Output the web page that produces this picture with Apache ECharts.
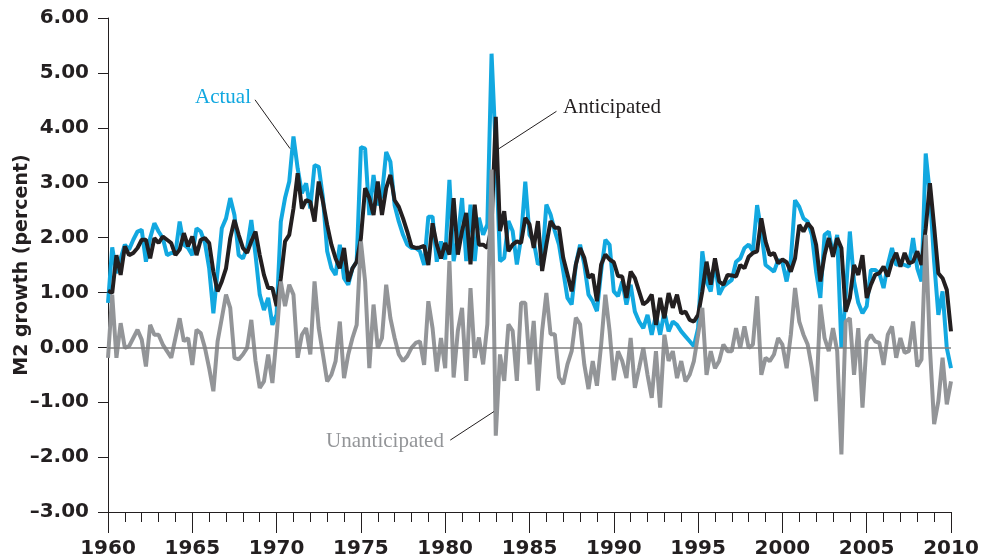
<!DOCTYPE html>
<html><head><meta charset="utf-8">
<script src="https://cdn.jsdelivr.net/npm/echarts/dist/echarts.min.js"></script>
<style>html,body{margin:0;padding:0;background:#fff}#c{width:983px;height:560px}</style>
</head><body><div id="c"></div>
<script>
// Quarterly data, 1960Q1 .. 2010Q1
const startYear = 1960;
const stepYears = 0.25;

const actual = [
 0.81,1.82,1.35,1.62,1.87,1.78,1.96,2.11,2.14,1.56,
 1.99,2.26,2.11,1.99,1.68,1.72,1.72,2.29,1.87,1.81,
 1.68,2.17,2.11,1.9,1.44,0.62,1.38,2.17,2.35,2.72,
 2.41,1.68,1.62,1.81,2.32,1.68,0.96,0.68,0.9,0.41,
 0.6,
 2.29,2.72,3.02,3.84,3.26,2.81,2.99,2.53,3.32,3.29,
 2.72,1.75,1.44,1.32,1.87,1.26,1.14,1.44,1.56,3.65,
 3.62,2.41,3.14,2.59,2.78,3.56,3.38,2.59,2.29,2.05,
 1.87,1.81,1.81,1.75,1.5,2.38,2.38,1.56,1.93,1.6,
 3.05,1.57,1.99,2.72,1.57,2.6,1.57,2.36,2.05,2.24,
 5.35,3.6,1.57,1.63,2.3,2.12,1.51,1.99,3.02,2.05,
 1.93,1.51,1.57,2.6,2.42,2.12,1.87,1.39,0.9,0.78,
 1.51,1.87,1.51,0.96,0.84,0.66,1.39,1.96,1.87,1.02,
 0.93,
 1.2,0.78,1.14,0.65,0.47,0.35,0.59,0.23,0.59,0.23,
 0.65,0.29,0.47,0.41,0.29,0.2,0.11,0.02,0.35,1.75,
 1.2,1.02,1.56,0.96,1.11,1.17,1.23,1.56,1.62,1.81,
 1.87,1.75,2.59,2.11,1.5,1.44,1.38,1.59,1.55,1.2,
 1.59,2.68,2.56,2.35,2.29,2.05,1.38,0.9,2.05,2.11,
 1.68,2.05,-0.01,0.9,2.11,1.2,0.81,0.62,0.75,1.41,
 1.41,1.35,1.08,1.5,1.81,1.5,1.53,1.5,1.47,1.99,
 1.44,1.2,3.53,2.78,1.56,0.59,1.02,-0.01,-0.38
];

const anticipated = [
 1.03,0.99,1.68,1.32,1.84,1.68,1.72,1.81,1.96,1.96,
 1.62,1.99,1.9,2.02,1.96,1.9,1.68,1.78,2.08,1.84,
 2.02,1.68,1.96,1.99,1.9,1.38,1.02,1.2,1.44,1.99,
 2.32,2.05,1.81,1.72,1.93,2.11,1.68,1.32,1.08,1.08,
 0.75,
 1.26,1.93,2.05,2.53,3.17,2.53,2.68,2.65,2.29,3.02,
 2.65,2.23,1.87,1.62,1.44,1.81,1.2,1.44,1.56,1.99,
 2.9,2.72,2.41,3.02,2.41,2.9,3.14,2.68,2.56,2.35,
 2.11,1.84,1.81,1.82,1.85,1.5,2.26,1.87,1.62,1.9,
 1.69,2.72,1.69,2.12,2.45,1.51,2.6,1.87,1.87,1.81,
 2.2,4.2,2.12,2.48,1.75,1.87,1.93,1.9,2.36,2.24,
 1.81,2.3,1.39,1.87,2.3,2.18,2.18,1.63,1.33,1.02,
 1.51,1.81,1.63,1.27,1.33,0.84,1.51,1.69,1.6,1.55,
 1.3,
 1.29,0.9,1.38,1.26,1.02,0.78,0.84,0.96,0.41,0.9,
 0.53,0.99,0.72,0.96,0.62,0.65,0.5,0.47,0.59,1.02,
 1.56,1.14,1.62,1.2,1.14,1.32,1.31,1.29,1.5,1.44,
 1.65,1.72,1.75,2.35,1.93,1.68,1.72,1.53,1.6,1.55,
 1.38,1.62,2.23,2.11,2.26,2.17,1.87,1.2,1.68,1.99,
 1.65,1.99,1.81,0.65,0.9,1.5,1.32,1.68,0.9,1.14,
 1.32,1.35,1.47,1.29,1.56,1.72,1.47,1.72,1.53,1.56,
 1.75,1.5,2.17,2.99,2.2,1.35,1.26,1.05,0.29
];

const unanticipated = [
 -0.19,0.96,-0.19,0.44,-0.01,0.02,0.17,0.32,0.14,-0.35,
 0.41,0.23,0.23,0.05,-0.07,-0.19,0.17,0.53,0.11,0.17,
 -0.32,0.32,0.26,-0.01,-0.38,-0.8,0.11,0.53,0.96,0.72,
 -0.19,-0.22,-0.13,-0.01,0.5,-0.25,-0.74,-0.62,-0.13,-0.65,
 0.2,
 1.2,0.75,1.14,0.96,-0.19,0.23,0.35,-0.13,1.2,0.35,
 -0.13,-0.62,-0.5,-0.25,0.47,-0.56,-0.13,0.17,0.41,1.93,
 1.2,-0.38,0.78,-0.01,0.17,1.14,0.53,0.17,-0.13,-0.25,
 -0.16,-0.01,0.08,0.11,-0.32,0.84,0.35,-0.44,0.17,-0.38,
 1.57,-0.55,0.3,0.72,-0.61,1.08,-0.19,0.18,-0.31,0.42,
 3.24,-1.61,-0.13,-0.61,0.42,0.3,-0.61,0.81,0.81,-0.31,
 0.48,-0.79,0.3,0.99,0.24,0.24,-0.55,-0.67,-0.31,-0.07,
 0.54,0.42,-0.31,-0.76,-0.25,-0.7,0.05,0.96,0.3,-0.6,
 -0.07,
 -0.25,-0.56,0.17,-0.74,-0.38,-0.01,-0.5,-0.92,-0.07,-1.1,
 0.23,-0.25,-0.07,-0.56,-0.25,-0.62,-0.5,-0.25,0.23,0.72,
 -0.5,-0.07,-0.38,-0.25,0.05,-0.07,-0.07,0.35,-0.01,0.38,
 -0.01,0.05,0.93,-0.5,-0.19,-0.25,-0.13,0.17,0.05,-0.38,
 0.23,1.08,0.47,0.23,0.05,-0.38,-0.98,0.78,0.17,-0.07,
 0.35,-0.07,-1.95,0.47,0.53,-0.5,0.35,-1.1,0.11,0.23,
 0.11,0.08,-0.32,0.23,0.38,-0.19,0.17,-0.1,-0.07,0.47,
 -0.35,-0.22,2.05,-0.01,-1.4,-0.98,-0.19,-1.04,-0.62
];

const xMin = 1960, xMax = 2010, xMajor = 5, xMinor = 1;
const yMin = -3, yMax = 6, yStep = 1;
const yAxisTitle = 'M2 growth (percent)';

// annotation labels: text anchor (year,value), leader from, leader to
const notes = [
  {text: 'Actual',        at: [1966.82, 4.56], from: [1968.72, 4.51], to: [1970.80, 3.62], color: '#12a8e0'},
  {text: 'Anticipated',   at: [1989.89, 4.37], from: [1986.60, 4.30], to: [1983.19, 3.62], color: '#231f20'},
  {text: 'Unanticipated', at: [1976.43, -1.71], from: [1980.30, -1.69], to: [1982.89, -1.17], color: '#939598'}
];

const BLUE = '#12a8e0', BLACK = '#231f20', GRAY = '#939598';
const FONT = 'DejaVu Sans';

function pairs(arr){ return arr.map((v,i)=>[startYear + i*stepYears, v]); }
function fmtY(v){ return (v < 0 ? '\u2013' + Math.abs(v).toFixed(2) : v.toFixed(2)); }

const chart = echarts.init(document.getElementById('c'), null, {renderer:'canvas'});
chart.setOption({
  animation: false,
  backgroundColor: '#ffffff',
  grid: {left: 108, right: 32, top: 18, bottom: 48, containLabel: false, outerBoundsMode: 'none'},
  xAxis: [{
    type: 'value', min: xMin, max: xMax, interval: xMajor, position: 'bottom',
    axisLine: {show: true, onZero: false, lineStyle: {color: BLACK, width: 1}},
    axisTick: {show: true, length: 21, lineStyle: {color: BLACK, width: 1}},
    axisLabel: {formatter: v => String(v), fontFamily: FONT, fontWeight: 'bold', fontSize: 20, color: BLACK, margin: 27},
    splitLine: {show: false}
  },{
    type: 'value', min: xMin, max: xMax, interval: xMinor, position: 'bottom',
    axisLine: {show: false, onZero: false},
    axisTick: {show: true, length: 10, lineStyle: {color: BLACK, width: 1}},
    axisLabel: {show: false},
    splitLine: {show: false}
  }],
  yAxis: {
    type: 'value', min: yMin, max: yMax, interval: yStep,
    name: yAxisTitle, nameLocation: 'middle', nameGap: 76, nameRotate: 90, nameMoveOverlap: false,
    nameTextStyle: {fontFamily: FONT, fontWeight: 'bold', fontSize: 19, color: BLACK},
    axisLine: {show: true, onZero: false, lineStyle: {color: BLACK, width: 1}},
    axisTick: {show: true, length: 10, lineStyle: {color: BLACK, width: 1}},
    axisLabel: {formatter: fmtY, fontFamily: FONT, fontWeight: 'bold', fontSize: 20, color: BLACK, margin: 19},
    splitLine: {show: false}
  },
  series: [
    {name: 'Actual', type: 'line', xAxisIndex: 0, data: pairs(actual), symbol: 'none', z: 2,
     lineStyle: {color: BLUE, width: 4},
     markLine: {silent: true, symbol: 'none', label: {show: false},
       lineStyle: {color: '#7f7f7f', width: 1.5, type: 'solid'}, data: [{yAxis: 0}]}},
    {name: 'Anticipated', type: 'line', xAxisIndex: 0, data: pairs(anticipated), symbol: 'none', z: 3,
     lineStyle: {color: BLACK, width: 4}},
    {name: 'Unanticipated', type: 'line', xAxisIndex: 0, data: pairs(unanticipated), symbol: 'none', z: 4,
     lineStyle: {color: GRAY, width: 4}}
  ]
});

const finder = {xAxisIndex: 0, yAxisIndex: 0};
const g = [];
notes.forEach(n => {
  const p = chart.convertToPixel(finder, n.at);
  const a = chart.convertToPixel(finder, n.from);
  const b = chart.convertToPixel(finder, n.to);
  g.push({type: 'line', shape: {x1: a[0], y1: a[1], x2: b[0], y2: b[1]},
          style: {stroke: BLACK, lineWidth: 1}, z: 10});
  g.push({type: 'text', x: p[0], y: p[1], z: 10,
          style: {text: n.text, fill: n.color, font: '21px "Liberation Serif"',
                  textAlign: 'center', textVerticalAlign: 'middle', align: 'center', verticalAlign: 'middle'}});
});
chart.setOption({graphic: g});
</script>
</body></html>
